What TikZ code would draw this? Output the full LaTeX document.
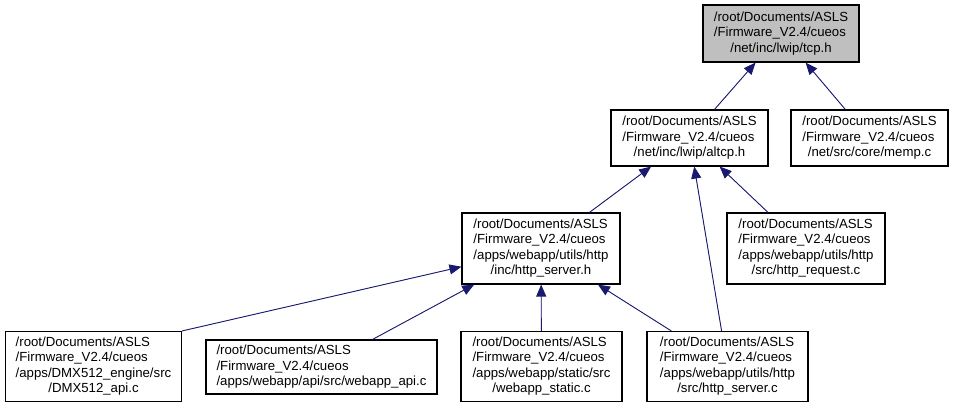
\documentclass[tikz,border=0pt]{standalone}
\usepackage{fontspec}
\setmainfont{Liberation Sans}
\usepackage{xcolor}
\usetikzlibrary{arrows.meta}

\definecolor{edgeblue}{RGB}{25,25,112}
\definecolor{focusgray}{RGB}{191,191,191}
\newcommand{\lastline}[1]{\multicolumn{1}{@{}c@{}}{#1}}

\begin{document}
\begin{tikzpicture}[x=1pt,y=-1pt]
\tikzstyle{file} = [rectangle, draw=black, line width=1.1pt, fill=white, inner sep=0pt, font=\fontsize{13.2}{15.5}\selectfont]
\tikzstyle{arrow} = [draw=edgeblue, line width=0.9pt, -{Triangle[length=12pt,width=10pt]}, fill=edgeblue]

\useasboundingbox (0,0) rectangle (956,408);

% Header and its direct users
\node (tcp) [file, fill=focusgray, minimum width=156pt, minimum height=57pt] at (781,33.5) {\begin{tabular}{@{}l@{}}/root/Documents/ASLS\\/Firmware\_V2.4/cueos\\\lastline{/net/inc/lwip/tcp.h}\end{tabular}};
\node (altcp) [file, minimum width=157pt, minimum height=56pt] at (689.5,138) {\begin{tabular}{@{}l@{}}/root/Documents/ASLS\\/Firmware\_V2.4/cueos\\\lastline{/net/inc/lwip/altcp.h}\end{tabular}};
\node (memp) [file, minimum width=157pt, minimum height=56pt] at (869.5,138) {\begin{tabular}{@{}l@{}}/root/Documents/ASLS\\/Firmware\_V2.4/cueos\\\lastline{/net/src/core/memp.c}\end{tabular}};

% Second level
\node (httph) [file, minimum width=158pt, minimum height=71pt] at (541,248.5) {\begin{tabular}{@{}l@{}}/root/Documents/ASLS\\/Firmware\_V2.4/cueos\\/apps/webapp/utils/http\\\lastline{/inc/http\_server.h}\end{tabular}};
\node (httpreq) [file, minimum width=158pt, minimum height=71pt] at (806,248.5) {\begin{tabular}{@{}l@{}}/root/Documents/ASLS\\/Firmware\_V2.4/cueos\\/apps/webapp/utils/http\\\lastline{/src/http\_request.c}\end{tabular}};

% Sources
\node (dmx) [file, minimum width=176pt, minimum height=70pt] at (93.5,366.5) {\begin{tabular}{@{}l@{}}/root/Documents/ASLS\\/Firmware\_V2.4/cueos\\/apps/DMX512\_engine/src\\\lastline{/DMX512\_api.c}\end{tabular}};
\node (webapi) [file, minimum width=231pt, minimum height=54pt] at (321.5,367) {\begin{tabular}{@{}l@{}}/root/Documents/ASLS\\/Firmware\_V2.4/cueos\\\lastline{/apps/webapp/api/src/webapp\_api.c}\end{tabular}};
\node (static) [file, minimum width=161pt, minimum height=70pt] at (541.5,366.5) {\begin{tabular}{@{}l@{}}/root/Documents/ASLS\\/Firmware\_V2.4/cueos\\/apps/webapp/static/src\\\lastline{/webapp\_static.c}\end{tabular}};
\node (httpc) [file, minimum width=161pt, minimum height=70pt] at (727.5,366.5) {\begin{tabular}{@{}l@{}}/root/Documents/ASLS\\/Firmware\_V2.4/cueos\\/apps/webapp/utils/http\\\lastline{/src/http\_server.c}\end{tabular}};

% Includes
\draw [arrow] (altcp) -- (tcp);
\draw [arrow] (memp) -- (tcp);
\draw [arrow] (httph) -- (altcp);
\draw [arrow] (httpreq) -- (altcp);
\draw [arrow] (httpc) -- (altcp);
\draw [arrow] (dmx.north east) -- (httph);
\draw [arrow] (webapi) -- (httph);
\draw [arrow] (static) -- (httph);
\draw [arrow] (httpc) -- (httph);

\end{tikzpicture}
\end{document}
